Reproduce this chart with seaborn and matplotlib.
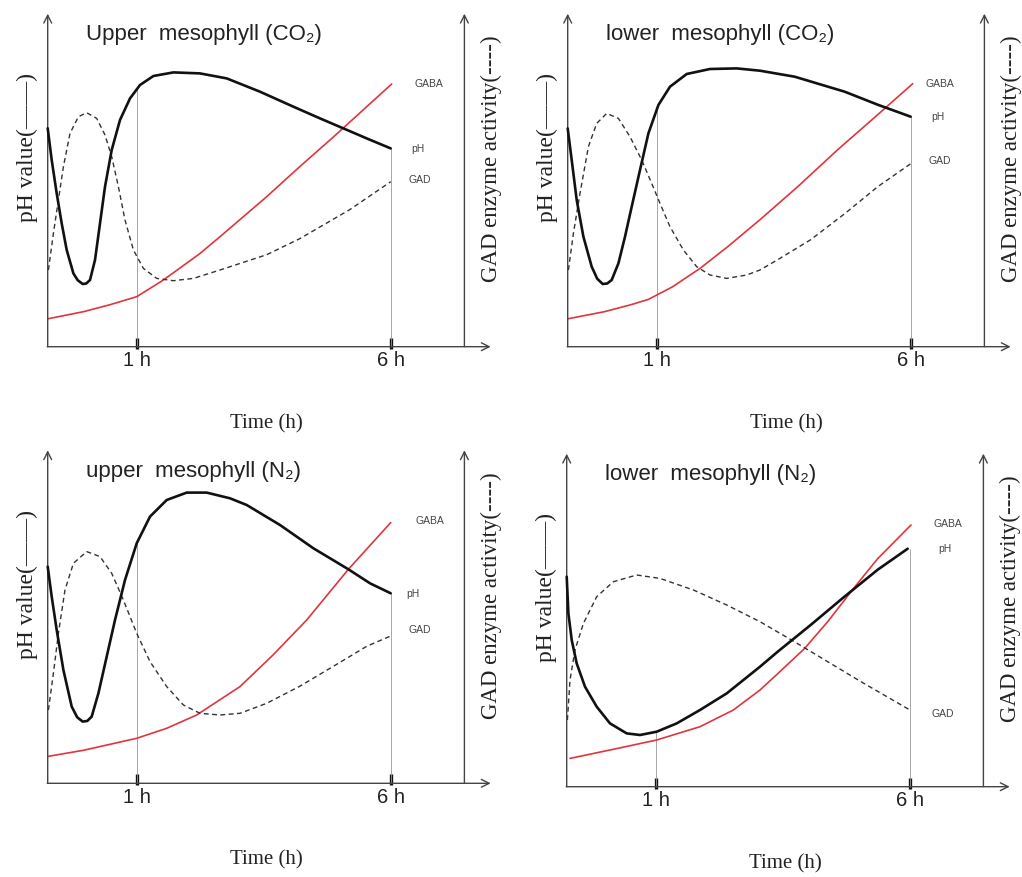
import numpy as np
import pandas as pd
import seaborn as sns
from matplotlib import pyplot as plt

# schematic curves, arbitrary units (x: time axis position, y: level)
panel_titles = ["Upper  mesophyll (CO₂)", "lower  mesophyll (CO₂)",
                "upper  mesophyll (N₂)", "lower  mesophyll (N₂)"]
tick_pos = [89, 343.5]
tick_labels = ["1 h", "6 h"]

up_co2_ph_x = [0, 4, 9, 14, 19, 25.7, 30, 35, 38.5, 42.3, 47.3, 52.3, 57.3, 64, 72.3, 82.3, 92.3, 105.7, 125.7, 152.3, 179, 212.3, 245.7, 272.3, 295.7, 319, 343]
up_co2_ph = [218.4, 186.7, 153.3, 123.3, 96.7, 73.3, 66.5, 62.7, 63.2, 66.7, 86.7, 123.3, 160, 196.7, 226.7, 248.3, 261.7, 270.7, 274.3, 273.3, 268.3, 255, 240, 228.3, 218.3, 208.3, 198.3]
up_co2_gad_x = [0.7, 5.7, 10.7, 15.7, 22.3, 30.7, 39, 49, 57.3, 64, 70.7, 77.3, 85.7, 95.7, 109, 125.7, 145.7, 172.3, 219, 252, 302, 343]
up_co2_gad = [76.7, 113.3, 146.7, 180, 213.3, 230, 234, 228.3, 211.7, 190, 160, 126.7, 96.7, 78.3, 68.3, 66, 68.3, 76.7, 92, 108, 137, 165]
up_co2_gaba_x = [0.7, 35.7, 62.3, 89, 115.7, 152, 172.3, 219, 252, 286, 319, 344]
up_co2_gaba = [28, 35, 42, 50, 66.7, 93, 110, 150, 180, 210, 240, 262.7]

lo_co2_ph_x = [0, 4, 9, 15.7, 24, 29.5, 35, 39.5, 44, 50.7, 57.3, 64, 72.3, 80.7, 90.7, 102.3, 119, 142.3, 169, 192.3, 227, 277, 310, 343]
lo_co2_ph = [218.3, 186.7, 146.7, 110, 80, 68, 62.7, 63.2, 66.7, 83.3, 110, 140, 176.7, 213.3, 241.7, 260, 272.7, 277.7, 278.3, 276, 270, 255, 242, 230]
lo_co2_gad_x = [0.7, 5.7, 12.3, 20.7, 29, 39, 50.7, 62.3, 74, 84, 92.3, 102.3, 115.7, 129, 142.3, 159, 179, 192.3, 210, 243, 277, 310, 343]
lo_co2_gad = [76.7, 113.3, 153.3, 200, 223.3, 233.3, 228.3, 210, 186.7, 163.3, 143.3, 120, 96.7, 80, 71.7, 68.3, 71.7, 76.7, 87, 107, 133, 160, 183]
lo_co2_gaba_x = [0.7, 36.7, 63.3, 80.7, 105, 132.3, 160, 192.3, 230, 270, 310, 345]
lo_co2_gaba = [28, 35, 42, 47.3, 60, 78.3, 100, 127, 160, 197, 232, 263]

up_n2_ph_x = [0, 4, 9, 15.7, 24, 29.5, 35, 39.5, 44, 50.7, 59, 67.3, 77.3, 89, 102.3, 119, 139, 159, 182.3, 199, 232.3, 265.7, 300.7, 322.3, 343]
up_n2_ph = [216.7, 186.7, 153.3, 113.3, 76.7, 66, 61.7, 62.3, 66.7, 90, 126.7, 163.3, 203.3, 240, 266.7, 283.3, 290.7, 290.7, 285, 278.3, 258.3, 235, 214, 200, 190]
up_n2_gad_x = [0.7, 5.7, 10.7, 17.3, 25.7, 39, 52.3, 64, 75.7, 89, 102.3, 119, 135.7, 152.3, 172.3, 192.3, 219, 252, 285.7, 319, 343]
up_n2_gad = [73.3, 110, 150, 193.3, 220, 231.7, 226.7, 210, 183.3, 150, 121.7, 96.7, 78.3, 70, 68.3, 70, 80, 97, 117, 137, 147.3]
up_n2_gaba_x = [0.7, 35.7, 62.3, 89, 119, 149, 192.3, 225, 259, 300.7, 343]
up_n2_gaba = [27, 33, 39, 45, 55, 68.3, 96.7, 128, 163.3, 214, 260.7]

lo_n2_ph_x = [0, 1.7, 5, 10, 18.3, 30, 43.3, 60, 73.3, 90, 110, 133.3, 160, 193.3, 211, 244.3, 277.7, 311, 341]
lo_n2_ph = [210, 173.3, 146.7, 123.3, 100, 80, 63.3, 53.3, 51.7, 55, 63.3, 76.7, 93.3, 120, 135, 162, 190, 217, 238]
lo_n2_gad_x = [0.7, 3.3, 8.3, 16.7, 30, 46.7, 70, 93.3, 126.7, 160, 193.3, 227.7, 261, 294.3, 342.7]
lo_n2_gad = [66.7, 106.7, 136.7, 163.3, 190, 205, 211.7, 208.3, 196.7, 181.7, 165, 145, 125, 105, 77]
lo_n2_gaba_x = [3.3, 43.3, 90, 133.3, 166.7, 193.3, 211, 237.7, 261, 284.3, 297.7, 311, 344.3]
lo_n2_gaba = [28.3, 36.7, 46.7, 60, 76.7, 96.7, 113, 138, 165, 195, 211.7, 228, 261.7]

# end-label positions (x, y) for GABA, pH, GAD
end_labels = [
    [(381, 263), (370, 198), (372, 167)],
    [(372, 263), (370, 230), (372, 186)],
    [(382, 262), (365, 189), (372, 153)],
    [(381, 263), (378, 238), (376, 73)],
]

series = [
    (up_co2_ph_x, up_co2_ph, up_co2_gad_x, up_co2_gad, up_co2_gaba_x, up_co2_gaba),
    (lo_co2_ph_x, lo_co2_ph, lo_co2_gad_x, lo_co2_gad, lo_co2_gaba_x, lo_co2_gaba),
    (up_n2_ph_x, up_n2_ph, up_n2_gad_x, up_n2_gad, up_n2_gaba_x, up_n2_gaba),
    (lo_n2_ph_x, lo_n2_ph, lo_n2_gad_x, lo_n2_gad, lo_n2_gaba_x, lo_n2_gaba),
]

# pixel origin of each panel (left axis, x axis)
origins = [(47.7, 346.7), (567.7, 346.7), (47.7, 783.3), (566.7, 786.7)]

sns.set_theme(style="white")
plt.rcParams['font.family'] = ['Liberation Sans', 'DejaVu Sans']

W, H = 1022, 877
fig = plt.figure(figsize=(W / 100, H / 100), dpi=100)

XMIN, XMAX, YMIN, YMAX = -2, 447, -2, 336
axis_col = '#444444'
serif = ['Liberation Serif', 'DejaVu Serif']

for i, (ox, oy) in enumerate(origins):
    ax = fig.add_axes([(ox + XMIN) / W, (H - (oy - YMIN)) / H,
                       (XMAX - XMIN) / W, (YMAX - YMIN) / H])
    ax.set_xlim(XMIN, XMAX)
    ax.set_ylim(YMIN, YMAX)
    for s in ax.spines.values():
        s.set_visible(False)
    ax.patch.set_alpha(0)

    phx, ph, gx, gad, bx, gaba = series[i]
    df_ph = pd.DataFrame({'x': phx, 'y': ph})
    df_gad = pd.DataFrame({'x': gx, 'y': gad})
    df_gaba = pd.DataFrame({'x': bx, 'y': gaba})

    # guide lines up to the pH curve
    for t in tick_pos:
        ax.vlines(t, 0, np.interp(t, phx, ph), color='#999999', lw=0.6, zorder=1)

    sns.lineplot(data=df_gaba, x='x', y='y', sort=False, estimator=None,
                 color='#e0353c', lw=1.2, ax=ax, zorder=3)
    sns.lineplot(data=df_gad, x='x', y='y', sort=False, estimator=None,
                 color='#333333', lw=1.0, ax=ax, zorder=3,
                 linestyle=(0, (3.5, 2.5)))
    sns.lineplot(data=df_ph, x='x', y='y', sort=False, estimator=None,
                 color='#111111', lw=1.9, ax=ax, zorder=4)

    # axes with arrow heads
    arrow = dict(arrowstyle='->', color=axis_col, lw=1.0, mutation_scale=14,
                 shrinkA=0, shrinkB=0)
    ax.annotate('', xy=(0, 333), xytext=(0, 0), arrowprops=arrow)
    ax.annotate('', xy=(443, 0), xytext=(-0.5, 0), arrowprops=arrow)
    ax.annotate('', xy=(416.7, 333), xytext=(416.7, 0), arrowprops=arrow)

    ax.set_xticks(tick_pos)
    ax.set_xticklabels(tick_labels, fontsize=14.5, color='#222222')
    ax.tick_params(axis='x', direction='in', length=8, width=2.4,
                   color='#111111', pad=2, bottom=True)
    ax.set_yticks([])
    ax.set_xlabel('')
    ax.set_ylabel('')

    ax.text(38, 312, panel_titles[i], fontsize=16, ha='left', va='center',
            color='#222222')
    ax.text(-20, 199, 'pH value(——)', rotation=90, family=serif, fontsize=17,
            ha='center', va='center', color='#222222')
    ax.text(444, 188, 'GAD enzyme activity(----)', rotation=90, family=serif,
            fontsize=16.5, ha='center', va='center', color='#222222')
    ax.text(219, -77, 'Time (h)', family=serif, fontsize=15, ha='center',
            va='center', color='#222222')
    for name, (lx, ly) in zip(['GABA', 'pH', 'GAD'], end_labels[i]):
        ax.text(lx, ly, name, fontsize=7.5, ha='center', va='center',
                color='#444444')

fig.savefig('out.png', dpi=100)
